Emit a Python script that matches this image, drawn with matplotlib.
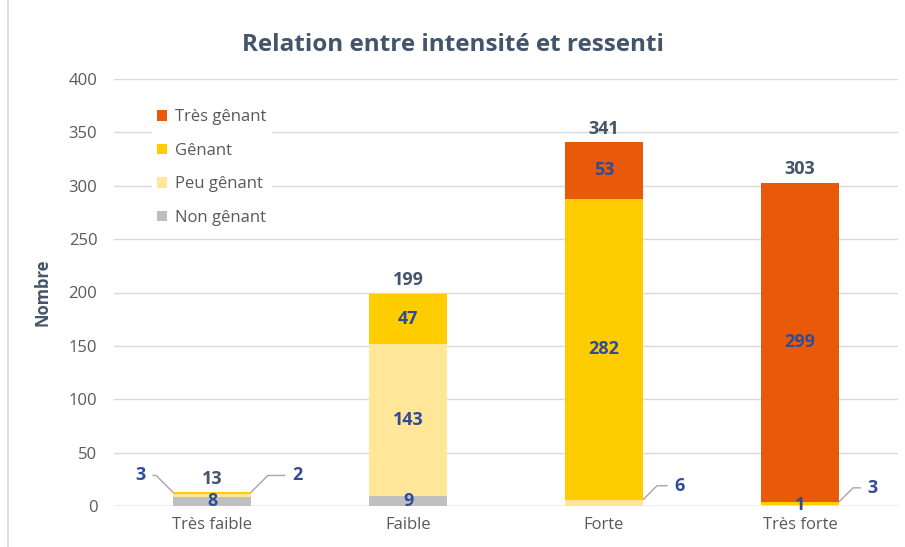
import matplotlib
matplotlib.use("Agg")
import matplotlib.pyplot as plt
import numpy as np

plt.rcParams['font.family'] = ['Open Sans', 'DejaVu Sans']

# données
categories = ['Très faible', 'Faible', 'Forte', 'Très forte']
non_genant = [8, 9, 0, 0]
peu_genant = [3, 143, 6, 1]
genant = [2, 47, 282, 3]
tres_genant = [0, 0, 53, 299]
totaux = [13, 199, 341, 303]

c_tres = '#E85A0A'
c_gen = '#FFCC00'
c_peu = '#FFE699'
c_non = '#BFBFBF'
c_lbl = '#2F4C96'
c_txt = '#44546A'
c_tick = '#595959'

fig = plt.figure(figsize=(9.05, 5.47), dpi=100)
ax = fig.add_axes([114/905, 41/547, 784/905, 427/547])

x = np.arange(len(categories))
w = 0.40
series = [(non_genant, c_non, 'Non gênant'), (peu_genant, c_peu, 'Peu gênant'),
          (genant, c_gen, 'Gênant'), (tres_genant, c_tres, 'Très gênant')]
bottom = np.zeros(len(categories))
handles = []
for vals, col, lab in series:
    b = ax.bar(x, vals, w, bottom=bottom, color=col, label=lab, zorder=3)
    handles.append(b)
    bottom += np.array(vals)

ax.set_xlim(-0.5, 3.5)
ax.set_ylim(0, 400)
ax.set_yticks(range(0, 401, 50))
ax.set_xticks(x)
ax.set_xticklabels(categories)
ax.tick_params(length=0, colors=c_tick, labelsize=12)
ax.tick_params(axis='x', pad=8)
ax.tick_params(axis='y', pad=12)
for s in ax.spines.values():
    s.set_visible(False)
ax.grid(axis='y', color='#D9D9D9', lw=1, zorder=0)
ax.set_axisbelow(True)
ax.axhline(0, color='#D0D0D0', lw=1, zorder=2)

ax.set_ylabel('Nombre', fontsize=12, fontweight='bold', color=c_txt, labelpad=12)
fig.text(0.5, 1 - 45/547, 'Relation entre intensité et ressenti', ha='center',
         va='center', fontsize=17.5, fontweight='bold', color=c_txt)

lkw = dict(ha='center', va='center', fontsize=13, fontweight='bold', color=c_lbl, zorder=5)

# étiquettes dans les barres
ax.text(0, 4.5, '8', **lkw)
ax.text(1, 4.5, '9', **lkw)
ax.text(1, 9 + 143 / 2, '143', **lkw)
ax.text(1, 152 + 47 / 2, '47', **lkw)
ax.text(2, 6 + 282 / 2, '282', **lkw)
ax.text(2, 288 + 53 / 2, '53', **lkw)
ax.text(3, 4 + 299 / 2, '299', **lkw)
ax.text(3, 0.5, '1', **lkw)

# étiquettes avec traits de rappel
ap = dict(arrowstyle='-', color='#A6A6A6', lw=1, shrinkA=3, shrinkB=0)
ax.annotate('3', xy=(-w / 2, 13), xytext=(-23, 12), textcoords='offset points',
            arrowprops=dict(ap, connectionstyle='angle,angleA=0,angleB=-45,rad=0'), **lkw)
ax.annotate('2', xy=(w / 2, 13), xytext=(33, 12), textcoords='offset points',
            arrowprops=dict(ap, connectionstyle='angle,angleA=180,angleB=45,rad=0'), **lkw)
ax.annotate('6', xy=(2 + w / 2, 6), xytext=(26, 10), textcoords='offset points',
            arrowprops=dict(ap, connectionstyle='angle,angleA=180,angleB=45,rad=0'), **lkw)
ax.annotate('3', xy=(3 + w / 2, 4), xytext=(24, 10), textcoords='offset points',
            arrowprops=dict(ap, connectionstyle='angle,angleA=180,angleB=45,rad=0'), **lkw)

# totaux
for i, t in enumerate(totaux):
    ax.text(i, t + 4, str(t), ha='center', va='bottom', fontsize=13,
            fontweight='bold', color=c_txt, zorder=5)

leg_h = [handles[3], handles[2], handles[1], handles[0]]
leg = ax.legend(leg_h, [h.get_label() for h in leg_h], loc='upper left',
                bbox_to_anchor=(0.038, 0.96), frameon=True, fontsize=12,
                handlelength=0.6, handleheight=0.6, handletextpad=0.5,
                labelspacing=1.05, labelcolor=c_tick, borderpad=0.3)
leg.get_frame().set_facecolor('white')
leg.get_frame().set_edgecolor('none')
leg.get_frame().set_alpha(1)

fig.add_artist(plt.Line2D([8/905, 8/905], [0, 1], color='#D9D9D9', lw=1.2))

fig.savefig('out.png', dpi=100)
